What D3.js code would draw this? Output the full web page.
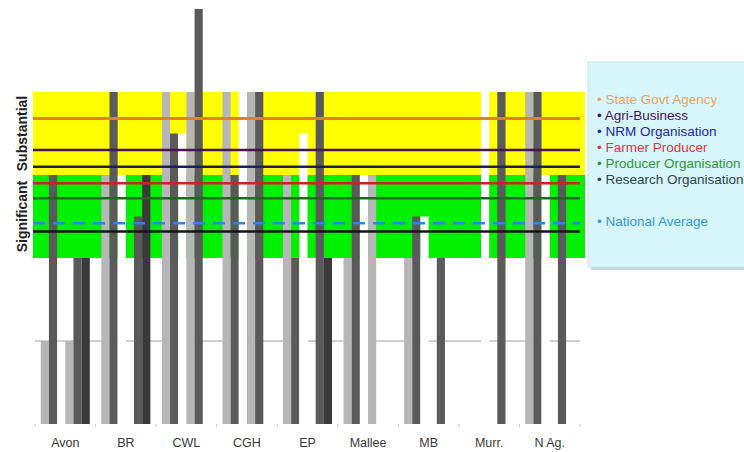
<!DOCTYPE html>
<html><head><meta charset="utf-8">
<script src="https://cdn.jsdelivr.net/npm/d3@7"></script>
<style>body{margin:0;background:#fff}svg{display:block}</style>
</head><body><svg id="c" width="744" height="452"></svg>
<script>
// ---- data ----
const categories = ["Avon","BR","CWL","CGH","EP","Mallee","MB","Murr.","N Ag."];
const barKeys = ["g1","g2","g3","g4","g5","g6"];
const barG1 = [1, 3, 4, 4, 3, 2, 2, 0, 4];
const barG2 = [3, 4, 3.5, 3, 2, 3, 2.5, 0, 4];
const barG3 = [0, 3, 3.5, 4, 3.5, 3, 2.5, 4, 3];
const barG4 = [1, 0, 4, 4, 0, 3, 0, 0, 0];
const barG5 = [2, 2.5, 5, 4, 4, 0, 2, 4, 3];
const barG6 = [2, 3, 0, 0, 2, 0, 0, 0, 0];
const lineNames = ["State Govt Agency","Agri-Business","NRM Organisation","Farmer Producer","Producer Organisation","Research Organisation","National Average"];
const lineValues = [3.68, 3.30, 3.10, 2.90, 2.72, 2.32, 2.42];
const bandNames = ["Substantial","Significant"];
const bandLow = [3, 2];
const bandHigh = [4, 3];
const gridValues = [1];
const yDomain = [0, 5];

// ---- styles ----
const barColors = ["#b6b6b6","#5a5a5a","#ffffff","#b6b6b6","#5a5a5a","#3a3a3a"];
const lineColors = ["#f27a1e","#4a1250","#1e1e5a","#cc2222","#1c6a1c","#151515","#2f86e0"];
const legendColors = ["#f0a060","#4a1060","#2424b0","#e03838","#2e9a2e","#304646","#3a96dc"];
const bandColors = ["#ffff00","#00f000"];

const svg = d3.select("#c");
const L = 35, R = 580, T = 9, B = 424;
const x0 = d3.scaleBand().domain(categories).range([L, R]).paddingInner(0.19).paddingOuter(0.095);
const x1 = d3.scaleBand().domain(barKeys).range([0, x0.bandwidth()]);
const y = d3.scaleLinear().domain(yDomain).range([B, T]);

const seriesVals = [barG1, barG2, barG3, barG4, barG5, barG6];
const table = categories.map((c, i) => ({cat: c, vals: barKeys.map((k, j) => ({key: k, j, v: seriesVals[j][i]}))}));

// gridlines
svg.append("g").selectAll("line").data(gridValues).join("line")
  .attr("x1", L).attr("x2", R).attr("y1", d => y(d)).attr("y2", d => y(d))
  .attr("stroke", "#a0a0a0").attr("stroke-width", 1);

// bands
svg.append("g").selectAll("rect").data(bandNames).join("rect")
  .attr("x", L - 2).attr("width", R - L + 7)
  .attr("y", (d, i) => y(bandHigh[i])).attr("height", (d, i) => y(bandLow[i]) - y(bandHigh[i]))
  .attr("fill", (d, i) => bandColors[i]);

// bars
const groups = svg.append("g").selectAll("g").data(table).join("g")
  .attr("transform", d => `translate(${x0(d.cat)},0)`);
groups.selectAll("rect").data(d => d.vals.filter(v => v.v > 0)).join("rect")
  .attr("x", d => x1(d.key)).attr("width", x1.bandwidth())
  .attr("y", d => y(d.v)).attr("height", d => y(0) - y(d.v))
  .attr("fill", d => barColors[d.j]);

// horizontal lines
svg.append("g").selectAll("line").data(lineNames).join("line")
  .attr("x1", L - 2).attr("x2", R)
  .attr("y1", (d, i) => y(lineValues[i])).attr("y2", (d, i) => y(lineValues[i]))
  .attr("stroke", (d, i) => lineColors[i])
  .attr("stroke-width", (d, i) => i === 0 ? 3 : 2.5)
  .attr("stroke-dasharray", (d, i) => i === 6 ? "12,8" : null);

// x axis (ticks only)
const xAxis = d3.axisBottom(x0).tickSize(0).tickPadding(14);
const ax = svg.append("g").attr("transform", `translate(0,${B})`).call(xAxis);
ax.select(".domain").remove();
ax.selectAll("text").attr("font-family", "Liberation Sans, Arial, sans-serif")
  .attr("font-size", 12.5).attr("fill", "#3a3a3a");
svg.append("g").selectAll("line").data(d3.range(categories.length + 1)).join("line")
  .attr("x1", i => L + i * x0.step()).attr("x2", i => L + i * x0.step())
  .attr("y1", B).attr("y2", B + 3).attr("stroke", "#c8c8c8");

// band titles
svg.append("g").selectAll("text").data(bandNames).join("text")
  .attr("transform", (d, i) => `translate(27,${(y(bandHigh[i]) + y(bandLow[i])) / 2}) rotate(-90)`)
  .attr("text-anchor", "middle")
  .attr("font-family", "Liberation Sans, Arial, sans-serif").attr("font-weight", "bold")
  .attr("font-size", 14).attr("fill", "#222").text(d => d);

// legend
const lg = svg.append("g");
lg.append("rect").attr("x", 591).attr("y", 65).attr("width", 160).attr("height", 205).attr("fill", "#c9d6d8");
lg.append("rect").attr("x", 588).attr("y", 62).attr("width", 160).attr("height", 205)
  .attr("fill", "#d6f6fc").attr("stroke", "#bfe6ee");
lg.selectAll("text.item").data(lineNames).join("text").attr("class", "item")
  .attr("x", 597).attr("y", (d, i) => 104 + i * 16 + (i === 6 ? 26 : 0))
  .attr("font-family", "Liberation Sans, Arial, sans-serif").attr("font-size", 13.5)
  .attr("fill", (d, i) => legendColors[i])
  .text(d => "\u2022 " + d);
</script></body></html>
